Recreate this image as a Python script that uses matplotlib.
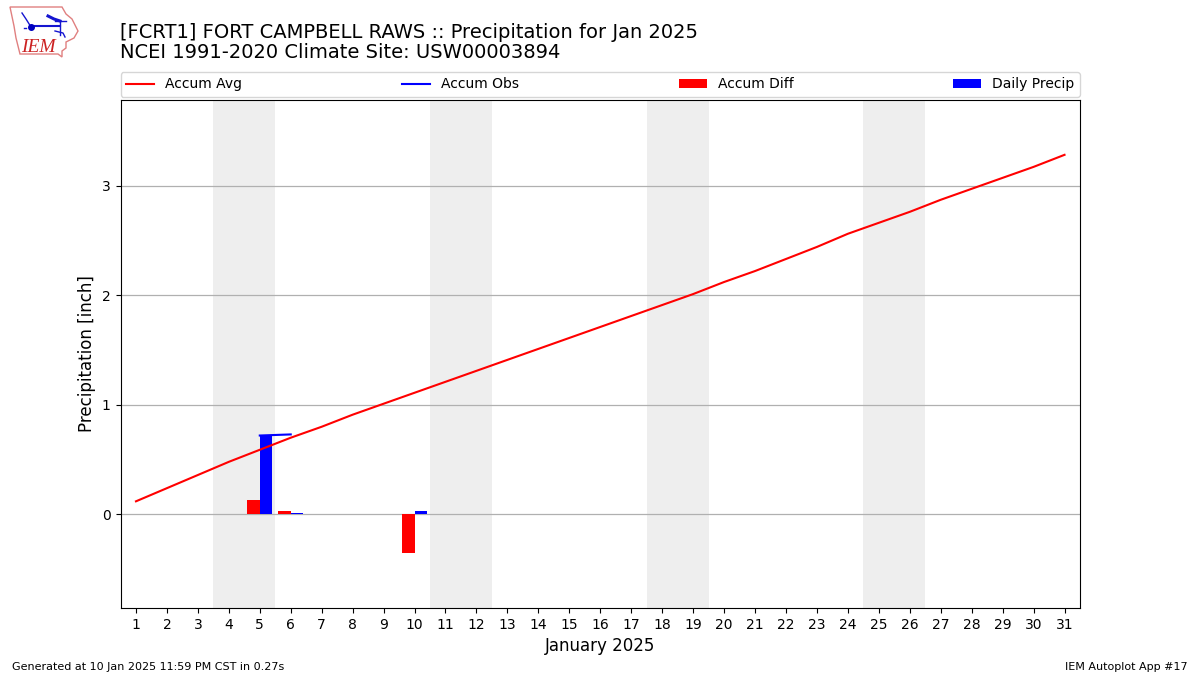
import matplotlib
matplotlib.use("Agg")
import matplotlib.pyplot as plt
from matplotlib.patches import Polygon

days = list(range(1, 32))
accum_avg = [0.12, 0.24, 0.36, 0.48, 0.59, 0.70, 0.80, 0.91, 1.01, 1.11, 1.21,
             1.31, 1.41, 1.51, 1.61, 1.71, 1.81, 1.91, 2.01, 2.12, 2.22, 2.33,
             2.44, 2.56, 2.66, 2.76, 2.87, 2.97, 3.07, 3.17, 3.28]
obs_days = [5, 6]
accum_obs = [0.72, 0.73]
diff_days = [5, 6, 10]
accum_diff = [0.13, 0.03, -0.35]
precip_days = [5, 6, 10]
daily_precip = [0.72, 0.01, 0.03]
weekends = [(3.5, 5.5), (10.5, 12.5), (17.5, 19.5), (24.5, 26.5)]

fig = plt.figure(figsize=(12, 6.75), dpi=100)
W, H = 1200.0, 675.0
ax = fig.add_axes([120.5 / W, 1 - 608 / H, (1080 - 120.5) / W, (608 - 100) / H])

for a, b in weekends:
    ax.axvspan(a, b, color="#eeeeee", lw=0, zorder=0)

ax.plot(days, accum_avg, color="r", lw=1.5, label="Accum Avg", zorder=3)
ax.plot(obs_days, accum_obs, color="b", lw=1.5, label="Accum Obs", zorder=3)
ax.bar(diff_days, accum_diff, width=-0.4, align="edge", color="r", label="Accum Diff", zorder=2)
ax.bar(precip_days, daily_precip, width=0.4, align="edge", color="b", label="Daily Precip", zorder=2)

ax.set_xlim(0.5, 31.5)
ax.set_ylim(-0.853, 3.78)
ax.set_xticks(days)
ax.set_yticks([0, 1, 2, 3])
ax.grid(axis="y", color="#b0b0b0", lw=0.9)
ax.set_axisbelow(True)
ax.tick_params(labelsize=10)
ax.set_xlabel("January 2025", fontsize=12, labelpad=4)
ax.set_ylabel("Precipitation [inch]", fontsize=12, labelpad=4)

ax.legend(loc="lower left", bbox_to_anchor=(0, 1.006, 1, 0.05), mode="expand",
          ncol=4, fontsize=10, borderaxespad=0)

fig.text(120 / W, 1 - 62 / H, "[FCRT1] FORT CAMPBELL RAWS :: Precipitation for Jan 2025\n"
         "NCEI 1991-2020 Climate Site: USW00003894", fontsize=14, ha="left", va="bottom", linespacing=1.1)
fig.text(12 / W, 1 - 670 / H, "Generated at 10 Jan 2025 11:59 PM CST in 0.27s", fontsize=8, ha="left", va="baseline")
fig.text(1188 / W, 1 - 670 / H, "IEM Autoplot App #17", fontsize=8, ha="right", va="baseline")

# IEM logo, drawn in pixel space of an overlay axes
logo = fig.add_axes([0, 1 - 65 / H, 100 / W, 65 / H])
logo.set_xlim(0, 100)
logo.set_ylim(65, 0)
logo.axis("off")
logo.add_patch(Polygon([(10, 7), (62, 7), (66, 14), (72, 19), (78, 31), (74, 38), (66, 42),
                        (66, 48), (62, 51), (62, 57), (58, 54), (20, 54), (16, 38), (14, 26)],
                       closed=True, fill=False, edgecolor="#e08080", lw=1))
logo.plot([22, 26, 31], [13, 19, 27], color="#1515d0", lw=1)
logo.plot([31, 60], [26, 26], color="#1515d0", lw=1.5)
logo.plot([31], [26.5], marker="o", ms=4, color="#0000c0")
logo.plot([48, 54, 60], [16, 19, 21], color="#1515d0", lw=2.2)
logo.plot([55, 66], [21, 21], color="#1515d0", lw=1)
logo.plot([60, 60], [21, 35], color="#1515d0", lw=1)
logo.plot([55, 63, 65], [31, 33, 37], color="#1515d0", lw=1)
logo.plot([24, 26], [28, 28], color="#1515d0", lw=1)
logo.text(21, 52, "IEM", color="#cc2222", fontsize=14, family="Liberation Serif",
          style="italic", ha="left", va="baseline")

fig.savefig("out.png", dpi=100)
